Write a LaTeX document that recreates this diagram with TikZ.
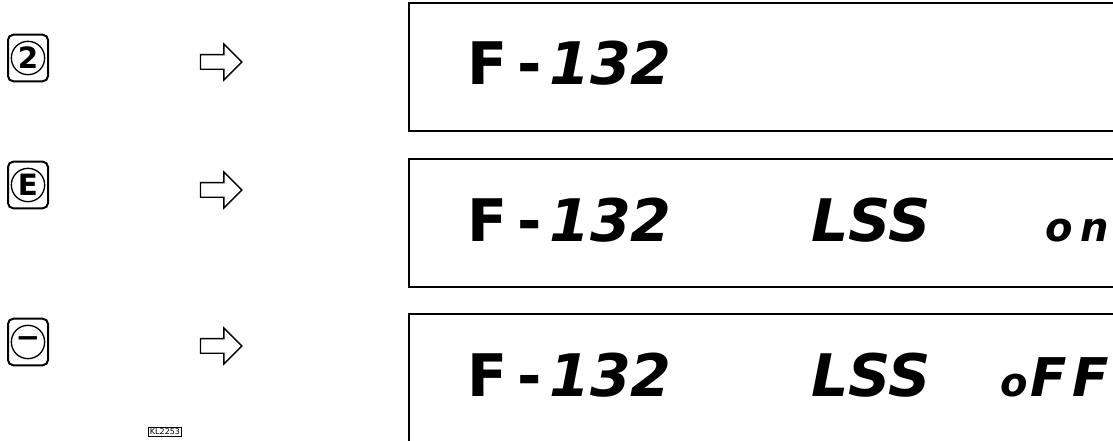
\documentclass[tikz,border=0pt]{standalone}
\usepackage{fontspec}
\newfontfamily\lcd{DejaVu Sans}
\usetikzlibrary{shapes.arrows}

\begin{document}
\begin{tikzpicture}[x=.75pt, y=-.75pt,
    keybox/.style={draw, line width=1.5pt, rounded corners=4pt, minimum width=30pt, minimum height=35pt},
    keyring/.style={draw, circle, line width=1pt, minimum size=25pt, inner sep=0pt, font=\lcd\bfseries\fontsize{22}{22}\selectfont},
    pointer/.style={draw, single arrow, line width=1pt, inner xsep=0pt, inner ysep=5pt, minimum height=31pt, minimum width=25pt, single arrow head extend=8pt},
    display/.style={draw, line width=1.4pt, anchor=north west, minimum width=540pt, minimum height=96pt},
    lcdbig/.style={anchor=base west, inner sep=0pt, font=\lcd\bfseries\fontsize{44}{44}\selectfont},
    lcdit/.style={lcdbig, font=\lcd\bfseries\itshape\fontsize{44}{44}\selectfont}]
    \path[use as bounding box, clip](0, 0) rectangle (1113, 441);
    % keys
    \node[keybox](key2) at(28, 58){};
    \node[keyring] at(key2){2};
    \node[keybox](keyE) at(28, 185){};
    \node[keyring] at(keyE){E};
    \node[keybox](keyM) at(28, 342){};
    \node[keyring] at(keyM){−};
    \node[draw, line width=.8pt, inner sep=1pt, font=\lcd\fontsize{6}{6}\selectfont](ref) at(165, 432){KL2253};
    % arrows
    \node[pointer](p1) at(217.5, 62){};
    \node[pointer](p2) at(217.5, 190){};
    \node[pointer](p3) at(217.5, 346){};
    % displays
    \node[display](d1) at(408, 2){};
    \node[display](d2) at(408, 158){};
    \node[display](d3) at(408, 313){};
    \foreach \y/\r in {85/1, 242/2, 397/3}{
        \node[lcdbig](f\r) at(467, \y){F};
        \node[lcdbig](h\r) at(517, \y){-};
        \node[lcdit](n\r) at(549, \y){132};
    }
    \node[lcdit](lss2) at(811, 242){LSS};
    \node[lcdit](lss3) at(811, 397){LSS};
    \node[lcdit, font=\lcd\bfseries\itshape\fontsize{30}{30}\selectfont\addfontfeature{LetterSpace=20}](on) at(1045, 242){on};
    \node[lcdit, font=\lcd\bfseries\itshape\fontsize{40}{40}\selectfont](off) at(1000, 397){{\fontsize{30}{30}\selectfont o}\hspace{2pt}F\hspace{4pt}F};
\end{tikzpicture}
\end{document}
